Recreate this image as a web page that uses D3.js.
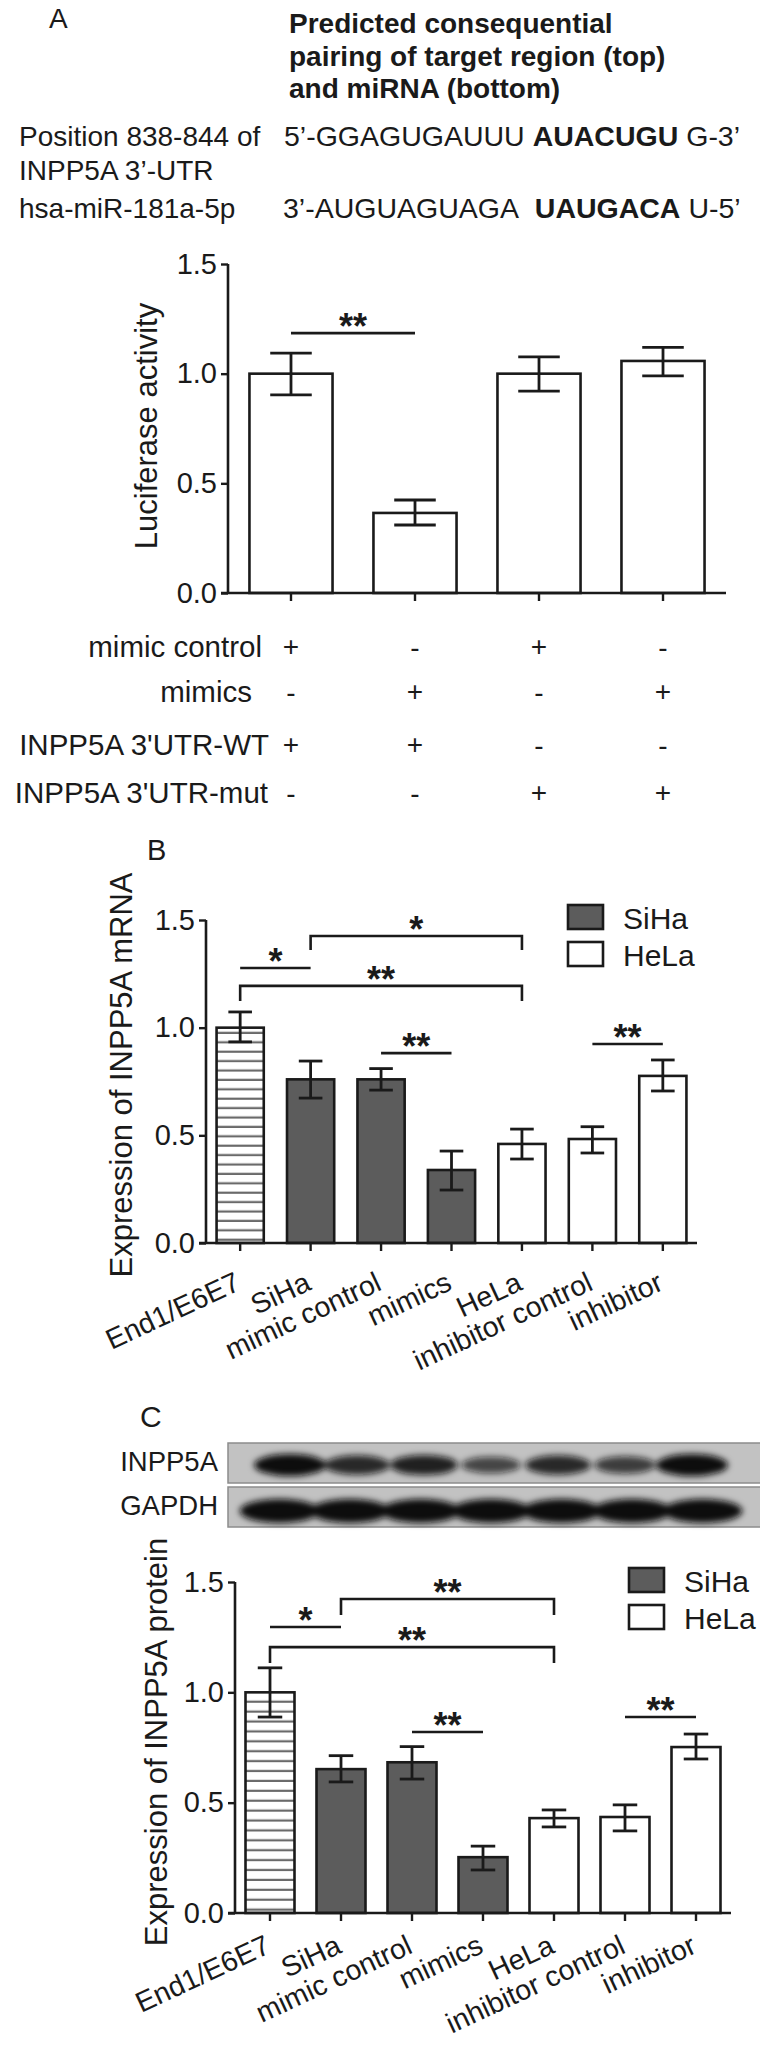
<!DOCTYPE html>
<html><head><meta charset="utf-8">
<script src="https://cdn.jsdelivr.net/npm/d3@7"></script>
<style>
body{margin:0;background:#fff;}
svg text{font-family:"Liberation Sans",Arial,Helvetica,sans-serif;fill:#1a1a1a;}
</style>
</head><body>
<svg id="fig" width="760" height="2047"></svg>
<script>
// ---------- data ----------
const yTicks = [0, 0.5, 1.0, 1.5];
const yTickLabels = ["0.0", "0.5", "1.0", "1.5"];

// Panel A: luciferase
const lucGroups = ["g1", "g2", "g3", "g4"];
const lucValues = [1.0, 0.365, 1.0, 1.058];
const lucErrLo = [0.903, 0.31, 0.92, 0.99];
const lucErrHi = [1.094, 0.424, 1.077, 1.12];
const lucConditions = ["mimic control", "mimics", "INPP5A 3'UTR-WT", "INPP5A 3'UTR-mut"];
const lucMarks = [["+", "-", "+", "-"], ["-", "+", "-", "+"], ["+", "+", "-", "-"], ["-", "-", "+", "+"]];
const lucSig = [{a: 0, b: 1, y: 1.185, label: "**", drop: 0}];

// Panels B/C
const groups = ["End1/E6E7", "SiHa", "mimic control", "mimics", "HeLa", "inhibitor control", "inhibitor"];
const groupType = ["normal", "SiHa", "SiHa", "SiHa", "HeLa", "HeLa", "HeLa"];
const legendItems = ["SiHa", "HeLa"];

const mrnaValues = [1.0, 0.76, 0.76, 0.339, 0.46, 0.483, 0.776];
const mrnaErrLo = [0.934, 0.673, 0.71, 0.246, 0.39, 0.418, 0.706];
const mrnaErrHi = [1.073, 0.845, 0.81, 0.427, 0.529, 0.54, 0.85];
const mrnaSig = [
  {a: 0, b: 1, y: 1.277, label: "*", drop: 0},
  {a: 1, b: 4, y: 1.426, label: "*", drop: 0.065},
  {a: 0, b: 4, y: 1.194, label: "**", drop: 0.07},
  {a: 2, b: 3, y: 0.882, label: "**", drop: 0},
  {a: 5, b: 6, y: 0.924, label: "**", drop: 0}
];

const protValues = [1.0, 0.652, 0.683, 0.253, 0.43, 0.435, 0.752];
const protErrLo = [0.888, 0.594, 0.607, 0.195, 0.39, 0.372, 0.698];
const protErrHi = [1.111, 0.713, 0.754, 0.303, 0.467, 0.49, 0.811];
const protSig = [
  {a: 0, b: 1, y: 1.296, label: "*", drop: 0},
  {a: 1, b: 4, y: 1.423, label: "**", drop: 0.072},
  {a: 0, b: 4, y: 1.205, label: "**", drop: 0.072},
  {a: 2, b: 3, y: 0.82, label: "**", drop: 0},
  {a: 5, b: 6, y: 0.888, label: "**", drop: 0}
];

// Western blot band intensities (0..1)
const blotRows = ["INPP5A", "GAPDH"];
const bandINPP5A = [1.0, 0.78, 0.85, 0.55, 0.78, 0.62, 1.0];
const bandGAPDH = [1, 1, 1, 1, 1, 1, 1];

// ---------- drawing ----------
const svg = d3.select("#fig");
const INK = "#1a1a1a";
const defs = svg.append("defs");

function stripePattern(id, gap) {
  const p = defs.append("pattern").attr("id", id).attr("patternUnits", "userSpaceOnUse")
    .attr("width", 10).attr("height", gap);
  p.append("rect").attr("width", 10).attr("height", gap).attr("fill", "#fff");
  p.append("rect").attr("y", gap - 2.2).attr("width", 10).attr("height", 2.2).attr("fill", "#6a6a6a");
}
stripePattern("stripesB", 9.4);
stripePattern("stripesC", 9.9);
defs.append("filter").attr("id", "blur").attr("x", "-30%").attr("y", "-80%").attr("width", "160%").attr("height", "260%")
  .append("feGaussianBlur").attr("stdDeviation", 3.2);

function fillFor(t, stripeId) {
  if (t === "normal") return "url(#" + stripeId + ")";
  if (t === "SiHa") return "#5c5c5c";
  return "#fff";
}

function drawChart(o) {
  const g = svg.append("g");
  const x = d3.scaleBand().domain(o.domain).range([o.axisX, o.axisEnd])
    .paddingInner(o.pi).paddingOuter(o.po);
  const y = d3.scaleLinear().domain([0, 1.5]).range([o.y0, o.y15]);

  g.selectAll("rect.bar").data(o.values).join("rect").attr("class", "bar")
    .attr("x", (d, i) => x(o.domain[i]))
    .attr("y", d => y(d))
    .attr("width", x.bandwidth())
    .attr("height", d => y(0) - y(d))
    .attr("fill", (d, i) => o.fills[i])
    .attr("stroke", INK).attr("stroke-width", 2.6);

  const cap = x.bandwidth() / 2;
  o.values.forEach((v, i) => {
    const cx = x(o.domain[i]) + x.bandwidth() / 2;
    const eg = g.append("g").attr("stroke", INK).attr("stroke-width", 2.8).attr("fill", "none");
    eg.append("line").attr("x1", cx).attr("x2", cx).attr("y1", y(o.lo[i])).attr("y2", y(o.hi[i]));
    eg.append("line").attr("x1", cx - cap / 2).attr("x2", cx + cap / 2).attr("y1", y(o.lo[i])).attr("y2", y(o.lo[i]));
    eg.append("line").attr("x1", cx - cap / 2).attr("x2", cx + cap / 2).attr("y1", y(o.hi[i])).attr("y2", y(o.hi[i]));
  });

  const yAxis = d3.axisLeft(y).tickValues(yTicks).tickFormat((d, i) => yTickLabels[i]).tickSize(7).tickPadding(4);
  const ya = g.append("g").attr("transform", `translate(${o.axisX},0)`).call(yAxis);
  ya.select(".domain").attr("stroke", INK).attr("stroke-width", 2.6).attr("d", `M0,${o.y15}V${o.y0}`);
  ya.selectAll(".tick line").attr("stroke", INK).attr("stroke-width", 2.4);
  ya.selectAll(".tick text").attr("font-size", o.tickFont).attr("fill", INK).attr("font-family", null);

  const xAxis = d3.axisBottom(x).tickSize(8).tickFormat("");
  const xa = g.append("g").attr("transform", `translate(0,${o.y0})`).call(xAxis);
  xa.select(".domain").attr("stroke", INK).attr("stroke-width", 2.6).attr("d", `M${o.axisX - 7},0H${o.axisEnd}`);
  xa.selectAll(".tick line").attr("stroke", INK).attr("stroke-width", 2.4);

  g.append("text").attr("transform", `translate(${o.ylabX},${o.ylabY}) rotate(-90)`)
    .attr("text-anchor", "middle").attr("font-size", o.ylabFont).text(o.ylabel);

  o.sig.forEach(s => {
    const xa_ = x(o.domain[s.a]) + x.bandwidth() / 2;
    const xb_ = x(o.domain[s.b]) + x.bandwidth() / 2;
    const yy = y(s.y);
    const sg = g.append("g").attr("stroke", INK).attr("stroke-width", 2.6).attr("fill", "none");
    if (s.drop > 0) {
      const yd = y(s.y - s.drop);
      sg.append("path").attr("d", `M${xa_},${yd}V${yy}H${xb_}V${yd}`);
    } else {
      sg.append("line").attr("x1", xa_).attr("x2", xb_).attr("y1", yy).attr("y2", yy);
    }
    g.append("text").attr("x", (xa_ + xb_) / 2).attr("y", yy + 6).attr("text-anchor", "middle")
      .attr("font-size", 36).attr("font-weight", "bold").text(s.label);
  });
  return {x, y};
}

// ---------- Panel A header ----------
svg.append("text").attr("x", 49).attr("y", 28).attr("font-size", 28).attr("fill", "#333").text("A");
const titleLines = ["Predicted consequential", "pairing of target region (top)", "and miRNA (bottom)"];
svg.selectAll("text.ttl").data(titleLines).join("text").attr("class", "ttl")
  .attr("x", 289).attr("y", (d, i) => 33 + i * 32.5).attr("font-size", 28).attr("font-weight", "bold").text(d => d);

const leftLabels = ["Position 838-844 of", "INPP5A 3\u2019-UTR", "hsa-miR-181a-5p"];
const leftY = [146, 180, 218];
svg.selectAll("text.ll").data(leftLabels).join("text").attr("class", "ll")
  .attr("x", 19).attr("y", (d, i) => leftY[i]).attr("font-size", 28).text(d => d);

const seqTop = ["5\u2019-GGAGUGAUUU ", "AUACUGU", " G-3\u2019"];
const seqBot = ["3\u2019-AUGUAGUAGA\u00a0 ", "UAUGACA", " U-5\u2019"];
[[seqTop, 146, 284], [seqBot, 218, 283]].forEach(([parts, yy, xx]) => {
  const t = svg.append("text").attr("x", xx).attr("y", yy).attr("font-size", 28.5).attr("xml:space", "preserve");
  parts.forEach((p, i) => t.append("tspan").attr("font-weight", i === 1 ? "bold" : "normal").text(p));
});

// ---------- Panel A chart ----------
const cA = drawChart({
  domain: lucGroups, values: lucValues, lo: lucErrLo, hi: lucErrHi,
  fills: lucValues.map(() => "#fff"),
  axisX: 228, axisEnd: 726, pi: 0.33, po: 0.173, y0: 593, y15: 264,
  tickFont: 29, ylabel: "Luciferase activity", ylabX: 157, ylabY: 426, ylabFont: 31,
  sig: lucSig
});
const condY = [657, 702, 755, 803];
const condXEnd = [262, 252, 269, 268];
lucConditions.forEach((c, r) => {
  svg.append("text").attr("x", condXEnd[r]).attr("y", condY[r]).attr("text-anchor", "end").attr("font-size", 29.5).text(c);
  lucMarks[r].forEach((m, j) => {
    svg.append("text").attr("x", cA.x(lucGroups[j]) + cA.x.bandwidth() / 2).attr("y", condY[r] - (m === "-" ? 0 : 1))
      .attr("text-anchor", "middle").attr("font-size", 28).text(m);
  });
});

// ---------- Panel B ----------
svg.append("text").attr("x", 147).attr("y", 860).attr("font-size", 29).attr("fill", "#333").text("B");

function drawLegend(x0, y0) {
  legendItems.forEach((l, i) => {
    svg.append("rect").attr("x", x0).attr("y", y0 + i * 37).attr("width", 35).attr("height", 24)
      .attr("fill", fillFor(l)).attr("stroke", INK).attr("stroke-width", 2.6);
    svg.append("text").attr("x", x0 + 55).attr("y", y0 + i * 37 + 24).attr("font-size", 30).text(l);
  });
}

function xLabels(c, y0, dy) {
  groups.forEach((gname, i) => {
    const cx = c.x(gname) + c.x.bandwidth() / 2;
    svg.append("text").attr("transform", `translate(${cx + 2},${y0 + dy}) rotate(-25)`)
      .attr("text-anchor", "end").attr("font-size", 28.5).text(gname);
  });
}

const cB = drawChart({
  domain: groups, values: mrnaValues, lo: mrnaErrLo, hi: mrnaErrHi,
  fills: groupType.map(t => fillFor(t, "stripesB")),
  axisX: 206, axisEnd: 697, pi: 0.33, po: 0.15, y0: 1243, y15: 920,
  tickFont: 29, ylabel: "Expression of INPP5A mRNA", ylabX: 132, ylabY: 1075, ylabFont: 31,
  sig: mrnaSig
});
drawLegend(568, 905);
xLabels(cB, 1243, 46);

// ---------- Panel C ----------
svg.append("text").attr("x", 140).attr("y", 1427).attr("font-size", 30).attr("fill", "#333").text("C");

const lane = d3.scalePoint().domain(groups).range([290, 692]);
const blotTop = [1443, 1487];
const blotH = 40;
blotRows.forEach((r, k) => {
  svg.append("rect").attr("x", 228).attr("y", blotTop[k]).attr("width", 540).attr("height", blotH)
    .attr("fill", "#c2c2c2").attr("stroke", "#8c8c8c").attr("stroke-width", 1.5);
  svg.append("text").attr("x", 218).attr("y", blotTop[k] + 28).attr("text-anchor", "end").attr("font-size", 27.5).text(r);
  const vals = k === 0 ? bandINPP5A : bandGAPDH;
  const bg = svg.append("g").attr("filter", "url(#blur)");
  vals.forEach((v, i) => {
    const cx = lane(groups[i]) + (k === 1 ? (i - 3) * 3.5 : 0);
    bg.append("ellipse").attr("cx", cx).attr("cy", blotTop[k] + 22 + (k === 1 ? 2 : 0))
      .attr("rx", k === 0 ? 22 + 14 * v : 40).attr("ry", k === 0 ? 5 + 6 * v : 12)
      .attr("fill", "#101010").attr("opacity", 0.35 + 0.65 * v);
  });
});

const cC = drawChart({
  domain: groups, values: protValues, lo: protErrLo, hi: protErrHi,
  fills: groupType.map(t => fillFor(t, "stripesC")),
  axisX: 235, axisEnd: 731, pi: 0.31, po: 0.148, y0: 1913, y15: 1582,
  tickFont: 29, ylabel: "Expression of INPP5A protein", ylabX: 167, ylabY: 1742, ylabFont: 31,
  sig: protSig
});
drawLegend(629, 1568);
xLabels(cC, 1913, 39);
</script>
</body></html>
